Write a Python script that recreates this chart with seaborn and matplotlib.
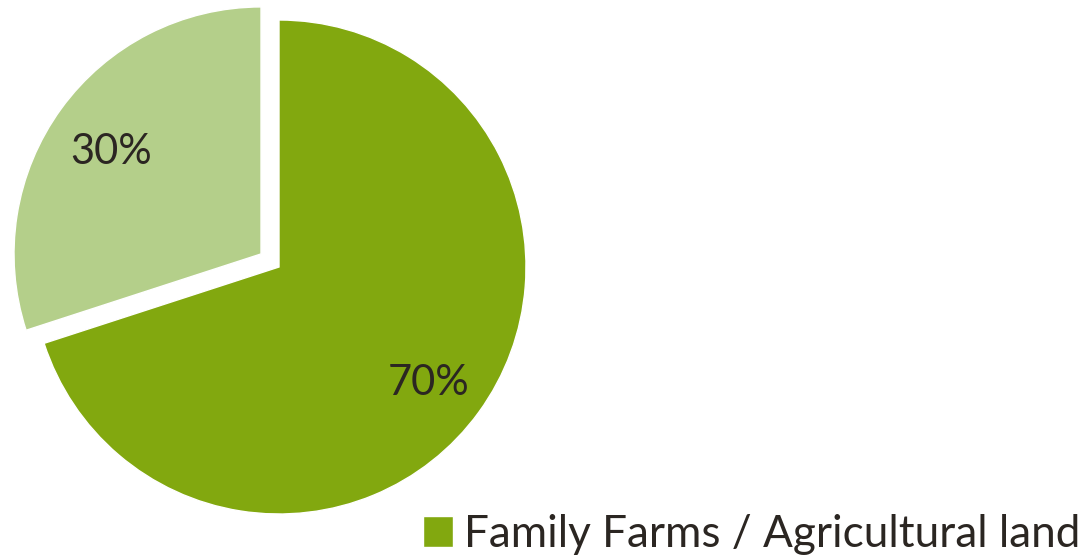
import numpy as np
import pandas as pd
import matplotlib.pyplot as plt
import matplotlib.transforms as mtransforms
import seaborn as sns

sns.set_style("white")
plt.rcParams['font.family'] = ['Lato', 'DejaVu Sans']

# Veriler
labels = ["Family Farms / Agricultural land", "Other"]
shares = [70, 30]
colors = ["#82A80F", "#B4CF8A"]
explode = [0, 0.09]

fig = plt.figure(figsize=(10.87, 5.55), dpi=100)

# pasta merkezi ~ (279, 267) px, yaricap ~ 247 px
r_px = 247
lim = 1.12
half = r_px * lim
ax = fig.add_axes([(279 - half) / 1087, (555 - 267 - half) / 555,
                   2 * half / 1087, 2 * half / 555])

wedges, texts, autotexts = ax.pie(shares, colors=colors, explode=explode,
                                  startangle=90, counterclock=False,
                                  autopct='%1.0f%%', pctdistance=0.75,
                                  textprops={'fontsize': 30, 'color': '#2B2622'})
# etiketleri biraz asagi kaydir
for t in autotexts:
    t.set_transform(t.get_transform() +
                    mtransforms.ScaledTranslation(0, -7 / 100, fig.dpi_scale_trans))
ax.set_xlim(-lim, lim)
ax.set_ylim(-lim, lim)
ax.set_aspect('auto')
ax.axis('off')

fig.legend([wedges[0]], [labels[0]], loc='upper left',
           bbox_to_anchor=(423 / 1087, 1 - 514 / 555), frameon=False,
           borderpad=0, borderaxespad=0, handlelength=0.69, handleheight=0.69,
           handletextpad=0.23, prop={'size': 31.8},
           labelcolor='#2B2622')

fig.savefig("out.png", dpi=100)
